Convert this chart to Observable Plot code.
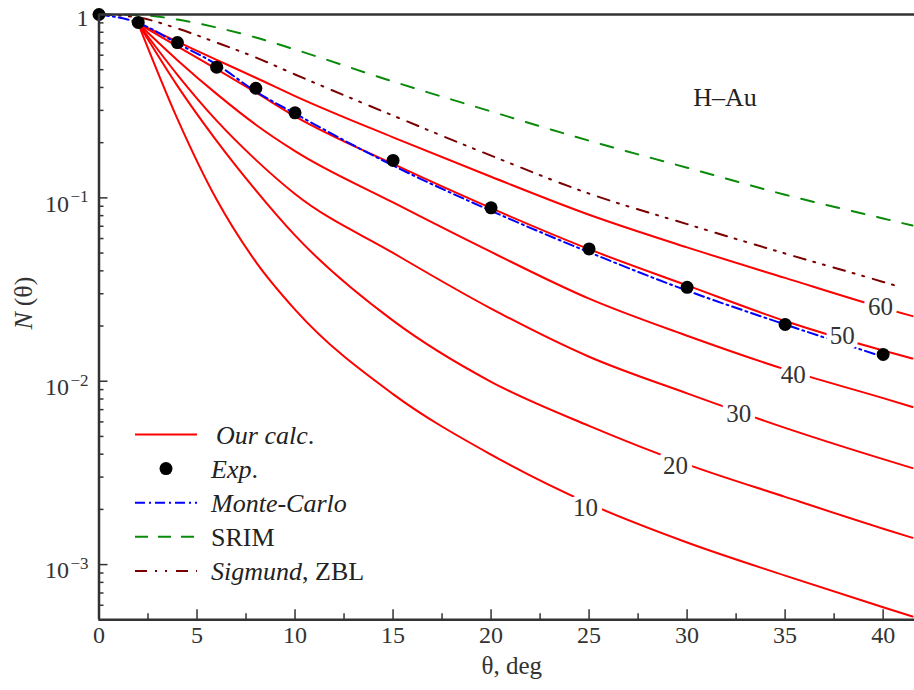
<!DOCTYPE html>
<html><head><meta charset="utf-8">
<script src="https://cdn.jsdelivr.net/npm/d3@7"></script>
<script src="https://cdn.jsdelivr.net/npm/@observablehq/plot@0.6"></script>
<style>
body{margin:0;background:#fff;}
#chart{width:914px;height:690px;}
</style>
</head><body><div id="chart"></div>
<script>
// ---- data ----
const thetaCalc = [2, 4, 6, 8, 10, 15, 20, 25, 30, 35, 40, 41.5];
const calc10 = [0.893, 0.2698, 0.0979, 0.0448, 0.0246, 0.00851, 0.00398, 0.00215, 0.00132, 0.000871, 0.000585, 0.000521];
const calc20 = [0.893, 0.408, 0.2046, 0.1099, 0.0624, 0.0214, 0.00993, 0.00571, 0.00352, 0.00234, 0.00157, 0.00140];
const calc30 = [0.893, 0.469, 0.2636, 0.1611, 0.105, 0.0501, 0.0249, 0.0136, 0.00859, 0.00557, 0.00376, 0.00336];
const calc40 = [0.893, 0.5636, 0.369, 0.2506, 0.1799, 0.0944, 0.0507, 0.0282, 0.0177, 0.0116, 0.00809, 0.00724];
const calc50 = [0.893, 0.670, 0.5035, 0.3758, 0.2786, 0.1531, 0.0879, 0.0525, 0.0333, 0.0213, 0.0147, 0.0133];
const calc60 = [0.893, 0.711, 0.566, 0.452, 0.359, 0.2138, 0.1303, 0.0809, 0.0537, 0.0366, 0.0251, 0.02265];
const curveNames = ["10", "20", "30", "40", "50", "60"];
const labelTheta = [24.82, 29.41, 32.64, 35.41, 37.92, 39.87];
const labelN = [0.00204, 0.00347, 0.00663, 0.01086, 0.01774, 0.0253];

const thetaExp = [0, 2, 4, 6, 8, 10, 15, 20, 25, 30, 35, 40];
const nExp = [1, 0.905, 0.703, 0.516, 0.396, 0.291, 0.16, 0.0882, 0.0527, 0.0325, 0.0204, 0.014];

const thetaMC = [0, 2, 4, 6, 8, 10, 15, 20, 25, 30, 35, 40];
const nMC = [1, 0.9, 0.695, 0.534, 0.38, 0.288, 0.15, 0.085, 0.0505, 0.0312, 0.0204, 0.0136];

const thetaSRIM = [0, 2, 4, 6, 8, 10, 15, 20, 25, 30, 35, 40, 41.5];
const nSRIM = [1, 0.995, 0.939, 0.849, 0.749, 0.644, 0.431, 0.296, 0.205, 0.146, 0.104, 0.0772, 0.0706];

const thetaSig = [0, 2, 4, 6, 8, 10, 15, 20, 25, 30, 35, 40, 40.6];
const nSig = [1, 0.963, 0.839, 0.703, 0.583, 0.471, 0.281, 0.170, 0.1055, 0.0719, 0.0497, 0.0348, 0.0333];

const xTicks = [0, 5, 10, 15, 20, 25, 30, 35, 40];
const xMinorTicks = [2.5, 7.5, 12.5, 17.5, 22.5, 27.5, 32.5, 37.5];
const yTicks = [1, 0.1, 0.01, 0.001];

// ---- build tables ----
const calcSeries = [calc10, calc20, calc30, calc40, calc50, calc60];
const calcData = [];
calcSeries.forEach((vals, i) => thetaCalc.forEach((t, j) => calcData.push({theta: t, n: vals[j], s: curveNames[i]})));
const labelData = curveNames.map((s, i) => ({s, theta: labelTheta[i], n: labelN[i]}));
const expData = thetaExp.map((t, i) => ({theta: t, n: nExp[i]}));
const mcData = thetaMC.map((t, i) => ({theta: t, n: nMC[i]}));
const srimData = thetaSRIM.map((t, i) => ({theta: t, n: nSRIM[i]}));
const sigData = thetaSig.map((t, i) => ({theta: t, n: nSig[i]}));
const yMinor = [];
for (let k = -4; k <= -1; k++) for (let m = 2; m <= 9; m++) { const v = m * Math.pow(10, k); if (v >= 5e-4 && v < 1) yMinor.push(v); }
const yExpTicks = yTicks.filter(v => v < 1).map(v => ({v, e: "\u2212" + Math.round(-Math.log10(v))}));

const W = 914, H = 690, mL = 98.5, mR = 0, mT = 14, mB = 70.7;
const plotW = W - mL - mR, plotH = H - mT - mB;
const axisColor = "#333";
const textColor = "#222";
const serif = "Liberation Serif";

const plot = Plot.plot({
  width: W, height: H,
  marginLeft: mL, marginRight: mR, marginTop: mT, marginBottom: mB,
  style: {fontFamily: "'Liberation Serif'", background: "white", overflow: "visible"},
  x: {domain: [0, 41.6], axis: null},
  y: {type: "log", domain: [5e-4, 1], axis: null},
  marks: [
    Plot.line(srimData, {x: "theta", y: "n", stroke: "#0a8a0a", strokeWidth: 2, strokeDasharray: "13,13", curve: "monotone-x"}),
    Plot.line(sigData, {x: "theta", y: "n", stroke: "#7a0000", strokeWidth: 2, strokeDasharray: "12,8,2,8,2,9", curve: "monotone-x"}),
    Plot.line(calcData, {x: "theta", y: "n", z: "s", stroke: "#ff0000", strokeWidth: 2, curve: "monotone-x"}),
    Plot.line(mcData, {x: "theta", y: "n", stroke: "#0000ff", strokeWidth: 2, strokeDasharray: "10,4,2,4", curve: "monotone-x"}),
    Plot.dot(expData, {x: "theta", y: "n", r: 6.5, fill: "black", stroke: "none"}),
    Plot.text(labelData, {x: "theta", y: "n", text: "s", fontSize: 25, fill: "#333", stroke: "white", strokeWidth: 10, paintOrder: "stroke"}),
    // frame / axes
    Plot.ruleY([1], {stroke: axisColor, strokeWidth: 2.5}),
    Plot.ruleY([5e-4], {stroke: axisColor, strokeWidth: 2.5}),
    Plot.ruleX([0], {stroke: axisColor, strokeWidth: 2.5}),
    Plot.ruleX(xTicks, {x: d => d, insetTop: plotH - 10, stroke: axisColor, strokeWidth: 1.5}),
    Plot.ruleX(xMinorTicks, {x: d => d, insetTop: plotH - 6, stroke: axisColor, strokeWidth: 1.5}),
    Plot.ruleY(yTicks, {y: d => d, insetRight: plotW - 9, stroke: axisColor, strokeWidth: 1.5}),
    Plot.ruleY(yMinor, {y: d => d, insetRight: plotW - 5, stroke: axisColor, strokeWidth: 1.5}),
    Plot.text(xTicks, {x: d => d, frameAnchor: "bottom", dy: 23, text: d => String(d), fontSize: 24, fill: "#333"}),
    Plot.text([1], {y: d => d, frameAnchor: "left", dx: -10.5, dy: 3.5, textAnchor: "end", text: d => "1", fontSize: 24, fill: "#333"}),
    Plot.text(yExpTicks, {y: "v", frameAnchor: "left", dx: -30, dy: 6, textAnchor: "end", text: d => "10", fontSize: 24, fill: "#333"}),
    Plot.text(yExpTicks, {y: "v", frameAnchor: "left", dx: -10.5, dy: -1, textAnchor: "end", text: "e", fontSize: 17, fill: "#333"}),
    Plot.text(["θ, deg"], {frameAnchor: "bottom", dx: 5, dy: 54, text: d => d, fontSize: 25, fill: "#333"}),
    Plot.text(["N"], {frameAnchor: "left", dx: -75.5, dy: 12.3, rotate: -90, text: d => d, fontSize: 26, fontStyle: "italic", fill: "#333"}),
    Plot.text(["(θ)"], {frameAnchor: "left", dx: -75.5, dy: -10.8, rotate: -90, text: d => d, fontSize: 26, fill: "#333"})
  ]
});
document.getElementById("chart").appendChild(plot);

// ---- annotation and legend ----
const svg = d3.select(plot);
svg.append("text").attr("x", 725).attr("y", 106).attr("text-anchor", "middle")
  .attr("font-size", 26).attr("fill", textColor).text("H\u2013Au");

const legend = [
  {type: "line", stroke: "#ff0000", dash: null, parts: [["Our calc", "italic"], [".", "normal"]], tx: 216},
  {type: "dot", parts: [["Exp", "italic"], [".", "normal"]], tx: 211},
  {type: "line", stroke: "#0000ff", dash: "10,4,2,4", parts: [["Monte-Carlo", "italic"]], tx: 211},
  {type: "line", stroke: "#0a8a0a", dash: "13,10", parts: [["SRIM", "normal"]], tx: 211},
  {type: "line", stroke: "#7a0000", dash: "12,8,2,8,2,9", parts: [["Sigmund", "italic"], [", ZBL", "normal"]], tx: 211}
];
const lg = svg.append("g").attr("font-size", 26).attr("fill", textColor).attr("text-anchor", "start");
legend.forEach((it, i) => {
  const cy = 434.5 + i * 34.1;
  if (it.type === "line") {
    lg.append("line").attr("x1", 135).attr("x2", 197).attr("y1", cy).attr("y2", cy)
      .attr("stroke", it.stroke).attr("stroke-width", 2).attr("stroke-dasharray", it.dash);
  } else {
    lg.append("circle").attr("cx", 166).attr("cy", cy).attr("r", 6.5).attr("fill", "black");
  }
  const t = lg.append("text").attr("x", it.tx).attr("y", cy + 9).attr("text-anchor", "start");
  it.parts.forEach(([s, st]) => t.append("tspan").attr("font-style", st).text(s));
});
// force the serif face on every text element
svg.selectAll("text, tspan").style("font-family", "'Liberation Serif'");
svg.selectAll("g").filter(function() { return this.getAttribute("font-family"); }).attr("font-family", "Liberation Serif");
svg.attr("font-family", "Liberation Serif");
</script>
</body></html>
